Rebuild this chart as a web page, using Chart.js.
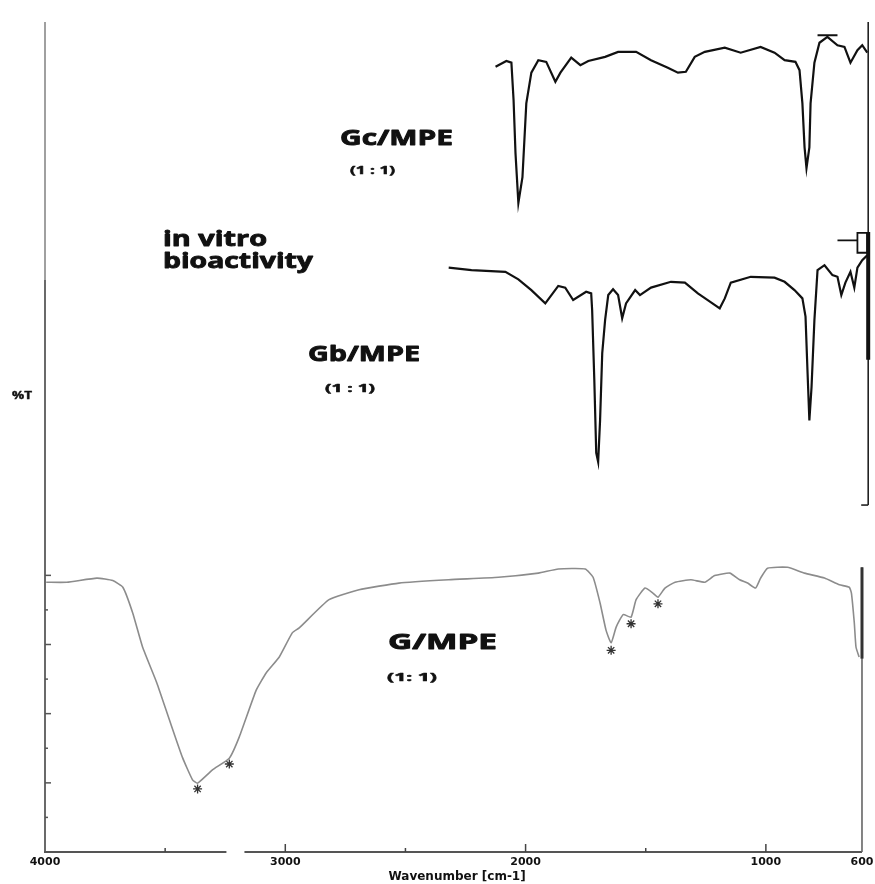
<!DOCTYPE html>
<html><head><meta charset="utf-8">
<script src="https://cdn.jsdelivr.net/npm/chart.js@4/dist/chart.umd.min.js"></script>
<style>html,body{margin:0;padding:0;background:#fff}</style>
</head><body>
<canvas id="c" width="875" height="884"></canvas>
<script>
// ---- data (wavenumber in cm-1, %T in stacked-offset units) ----
const gcWavenumber = [2125,2080,2059,2050,2042,2030,2013,1997,1976,1947,1914,1876,1855,1810,1772,1739,1669,1615,1540,1478,1408,1366,1333,1296,1254,1171,1105,1022,964,922,877,860,848,839,831,819,814,798,777,744,702,673,648,619,599,578];
const gcTransmittance = [94.6,95.3,95.1,90.6,84.2,78.2,81.3,90.2,93.9,95.4,95.2,92.8,93.9,95.7,94.8,95.3,95.8,96.4,96.4,95.4,94.5,93.9,94.0,95.8,96.4,96.9,96.3,97.0,96.3,95.4,95.2,94.2,90.2,84.9,82.4,84.9,90.2,95.1,97.5,98.2,97.2,97.0,95.1,96.6,97.2,96.3];

const gbWavenumber = [2320,2225,2084,2030,1976,1918,1864,1835,1802,1748,1727,1723,1714,1706,1698,1690,1681,1669,1656,1636,1615,1598,1582,1544,1524,1478,1395,1337,1283,1242,1192,1171,1146,1063,964,922,881,848,835,827,819,810,798,785,756,723,702,686,669,648,632,619,599,578];
const gbTransmittance = [70.4,70.1,69.9,69.0,67.7,66.1,68.2,68.0,66.5,67.5,67.3,65.3,56.9,48.1,47.0,52.0,60.1,64.1,67.1,67.8,67.1,64.3,66.1,67.7,67.1,68.0,68.7,68.6,67.3,66.5,65.5,66.7,68.6,69.3,69.2,68.7,67.7,66.7,64.5,58.1,52.0,56.0,64.1,70.1,70.7,69.5,69.3,67.1,68.6,69.9,68.0,70.4,71.3,71.9];

const gWavenumber = [3995,3909,3784,3718,3676,3635,3594,3535,3482,3428,3386,3365,3303,3233,3191,3121,3079,3025,2971,2942,2818,2693,2527,2320,2113,1947,1864,1752,1719,1690,1665,1644,1623,1594,1561,1540,1503,1470,1449,1420,1378,1312,1254,1213,1150,1109,1076,1043,1022,993,910,839,756,694,653,644,632,625,612];
const gTransmittance = [32.5,32.5,33.0,32.7,31.9,28.8,24.7,20.4,15.9,11.4,8.7,8.3,9.9,11.3,13.9,19.5,21.6,23.5,26.4,27.0,30.4,31.6,32.4,32.8,33.1,33.6,34.1,34.1,33.1,30.0,26.7,25.2,27.1,28.6,28.3,30.4,31.8,31.2,30.7,31.8,32.5,32.8,32.5,33.3,33.6,32.8,32.4,31.8,33.0,34.2,34.3,33.6,33.0,32.2,31.9,31.2,27.6,24.7,23.5];

const gPeakWavenumber = [3365,3233,1644,1561,1449];
const gPeakTransmittance = [7.6,10.6,24.3,27.5,29.9];

const gcPickWavenumber = [785,702];
const gcPickTransmittance = [98.4,98.4];
const gbPickWavenumber = [702,619,619,578,578,619,619];
const gbPickTransmittance = [73.7,73.7,74.6,74.6,72.2,72.2,73.7];

const xTickValues = [4000,3000,2000,1000,600];
const xMajorInnerTicks = [3000,2000,1000];
const xMinorInnerTicks = [3500,2500,1500];
const yMajorTicks = [8.33,16.67,25,33.33];
const yMinorTicks = [4.17,12.5,20.83,29.17];

const seriesLabels = ['Gc/MPE','Gb/MPE','G/MPE'];
const ratioLabels = ['(1 : 1)','(1 : 1)','(1: 1)'];

const pts = (xs, ys) => xs.map((v, i) => ({x: v, y: ys[i]}));

const decor = {
  id: 'decor',
  afterDatasetsDraw(chart) {
    const {ctx, scales: {x, y}, chartArea: a} = chart;
    ctx.save();
    ctx.lineCap = 'butt';
    const line = (x1, y1, x2, y2, c, w) => {
      ctx.strokeStyle = c; ctx.lineWidth = w;
      ctx.beginPath(); ctx.moveTo(x1, y1); ctx.lineTo(x2, y2); ctx.stroke();
    };
    const L = x.getPixelForValue(4000), R = x.getPixelForValue(600), B = a.bottom;
    // left axis
    line(L, a.top, L, 280, '#a0a0a0', 2);
    line(L, 280, L, B, '#444', 1.6);
    // bottom axis with break
    line(L - 1, B, x.getPixelForValue(3245), B, '#555', 2);
    line(x.getPixelForValue(3170), B, R, B, '#555', 2);
    // lower right axis
    line(R, y.getPixelForValue(34.3), R, B, '#666', 1.6);
    line(R, y.getPixelForValue(34.3), R, y.getPixelForValue(23.3), '#333', 3);
    // upper right axis
    const RR = a.right - 1;
    line(RR, a.top, RR, y.getPixelForValue(41.8), '#222', 1.6);
    line(RR, y.getPixelForValue(74.7), RR, y.getPixelForValue(59.3), '#111', 4);
    line(RR - 7, y.getPixelForValue(41.8), RR, y.getPixelForValue(41.8), '#222', 1.6);
    // inner x ticks
    xMajorInnerTicks.forEach(v => line(x.getPixelForValue(v), B, x.getPixelForValue(v), B - 8, '#444', 1.5));
    xMinorInnerTicks.forEach(v => line(x.getPixelForValue(v), B, x.getPixelForValue(v), B - 4, '#444', 1.5));
    // inner y ticks (G/MPE panel)
    yMajorTicks.forEach(v => line(L, y.getPixelForValue(v), L + 6, y.getPixelForValue(v), '#555', 1.5));
    yMinorTicks.forEach(v => line(L, y.getPixelForValue(v), L + 3, y.getPixelForValue(v), '#555', 1.5));
    // text
    ctx.fillStyle = '#111';
    ctx.strokeStyle = '#111';
    ctx.lineJoin = 'round';
    ctx.textBaseline = 'alphabetic';
    const txt = (s, left, base, width, size, sw) => {
      ctx.font = 'bold ' + size + 'px "Open Sans"';
      const m = ctx.measureText(s).width;
      ctx.save(); ctx.translate(left, base); ctx.scale(width / m, 1);
      ctx.fillText(s, 0, 0);
      ctx.lineWidth = sw; ctx.strokeText(s, 0, 0);
      ctx.restore();
    };
    txt(seriesLabels[0], 340, 145, 113, 22, 0.9);
    txt(ratioLabels[0], 350, 174, 45, 11, 0.5);
    txt('in vitro', 163, 246, 104, 22, 0.9);
    txt('bioactivity', 163, 268, 150, 22, 0.9);
    txt(seriesLabels[1], 308, 361, 112, 22, 0.9);
    txt(ratioLabels[1], 325, 392, 50, 11, 0.5);
    txt(seriesLabels[2], 388, 649, 109, 22, 0.9);
    txt(ratioLabels[2], 387, 681, 50, 11, 0.5);
    txt('%T', 12, 399, 20, 10, 0.4);
    ctx.restore();
  }
};

new Chart(document.getElementById('c'), {
  type: 'line',
  data: {
    datasets: [
      {label: seriesLabels[0], data: pts(gcWavenumber, gcTransmittance), borderColor: '#111', borderWidth: 2.2, pointRadius: 0, tension: 0},
      {label: seriesLabels[1], data: pts(gbWavenumber, gbTransmittance), borderColor: '#111', borderWidth: 2.2, pointRadius: 0, tension: 0},
      {label: seriesLabels[2], data: pts(gWavenumber, gTransmittance), borderColor: '#8c8c8c', borderWidth: 1.6, pointRadius: 0, tension: 0.15},
      {label: 'G peaks', data: pts(gPeakWavenumber, gPeakTransmittance), showLine: false, pointStyle: 'star', pointRadius: 4.5, borderColor: '#333', borderWidth: 1.3, backgroundColor: '#333'},
      {label: 'Gc pick', data: pts(gcPickWavenumber, gcPickTransmittance), borderColor: '#111', borderWidth: 2, pointRadius: 0},
      {label: 'Gb pick', data: pts(gbPickWavenumber, gbPickTransmittance), borderColor: '#111', borderWidth: 1.8, pointRadius: 0}
    ]
  },
  options: {
    responsive: false,
    animation: false,
    devicePixelRatio: 1,
    layout: {padding: {top: 22, right: 3, left: 0, bottom: 0}},
    plugins: {legend: {display: false}, tooltip: {enabled: false}},
    scales: {
      x: {
        type: 'linear', reverse: true, min: 570, max: 4000,
        afterBuildTicks: s => { s.ticks = xTickValues.map(v => ({value: v})); },
        afterFit: s => { s.height = 32; s.paddingLeft = 0; s.paddingRight = 0; },
        grid: {display: false, drawTicks: false},
        border: {display: false},
        ticks: {autoSkip: false, maxRotation: 0, minRotation: 0, padding: 4, color: '#111',
                font: {family: 'DejaVu Sans', weight: 'bold', size: 11}, callback: v => String(v)},
        title: {display: true, text: 'Wavenumber [cm-1]', color: '#111',
                font: {family: 'DejaVu Sans', weight: 'bold', size: 12}, padding: {top: 0, bottom: 0}}
      },
      y: {
        type: 'linear', min: 0, max: 100,
        afterFit: s => { s.width = 45; },
        ticks: {display: false}, grid: {display: false}, border: {display: false}
      }
    }
  },
  plugins: [decor]
});
</script>
</body></html>
